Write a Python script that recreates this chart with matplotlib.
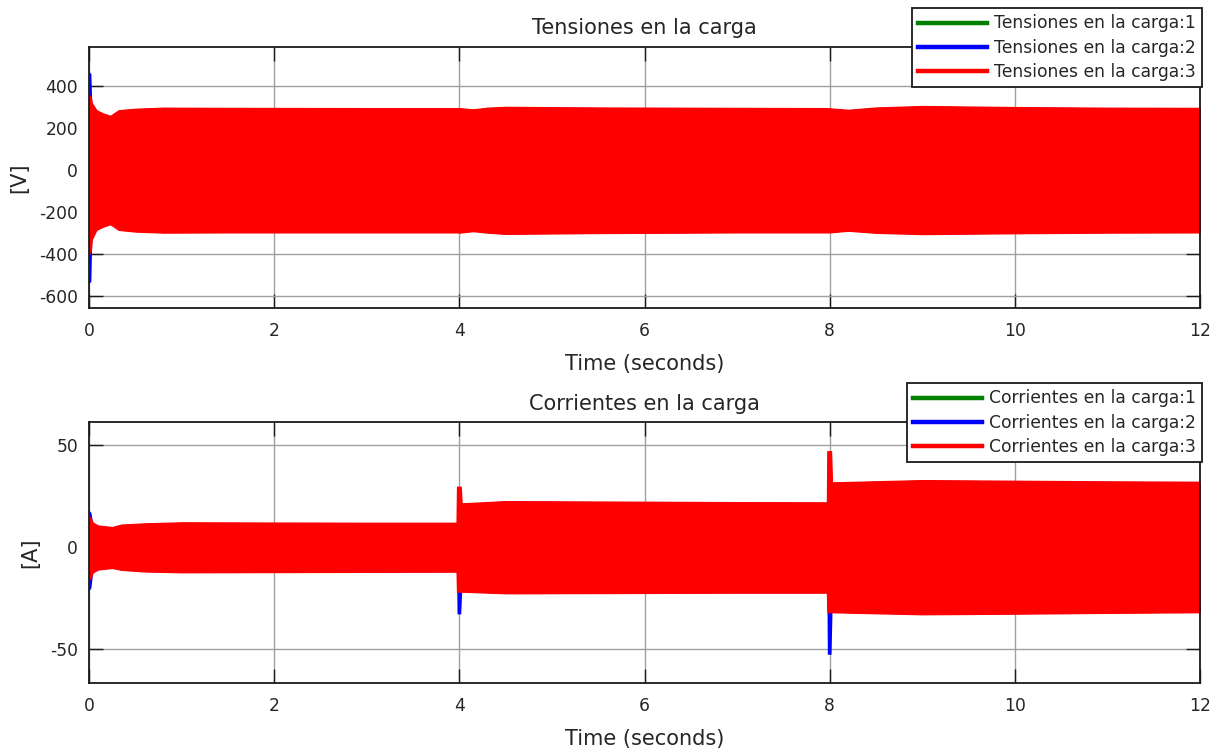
import matplotlib
matplotlib.use("Agg")
import matplotlib.pyplot as plt
from matplotlib.lines import Line2D

plt.rcParams['font.family'] = ['DejaVu Sans']
plt.rcParams['axes.unicode_minus'] = False

# ---- axis ticks -------------------------------------------------------
time_ticks = [0, 2, 4, 6, 8, 10, 12]
v_ticks = [-600, -400, -200, 0, 200, 400]
i_ticks = [-50, 0, 50]

phase_colors = ['#008000', '#0000ff', '#ff0000']
v_labels = ['Tensiones en la carga:1', 'Tensiones en la carga:2', 'Tensiones en la carga:3']
i_labels = ['Corrientes en la carga:1', 'Corrientes en la carga:2', 'Corrientes en la carga:3']

# ---- load voltage envelopes (peak values per phase) [V] ---------------
v_t = [0.00, 0.02, 0.03, 0.08, 0.15, 0.23, 0.32, 0.50, 0.80, 1.50, 3.00, 3.97, 4.00,
       4.15, 4.30, 4.50, 5.50, 7.00, 7.97, 8.00, 8.20, 8.50, 9.00, 10.0, 11.0, 12.0]
v_hi_1 = [355, 340, 318, 283, 268, 256, 283, 290, 295, 294, 293, 293, 293,
          287, 295, 299, 296, 294, 293, 292, 285, 296, 303, 298, 295, 294]
v_lo_1 = [-395, -375, -328, -283, -268, -256, -283, -291, -296, -295, -295, -295, -296,
          -289, -296, -302, -298, -295, -295, -295, -287, -297, -303, -299, -296, -295]
v_hi_2 = [468, 460, 320, 285, 270, 258, 285, 292, 297, 296, 295, 295, 295,
          289, 297, 301, 298, 296, 295, 294, 287, 298, 305, 300, 297, 296]
v_lo_2 = [-540, -530, -330, -285, -270, -258, -285, -293, -298, -297, -297, -297, -298,
          -291, -298, -304, -300, -297, -297, -297, -289, -299, -305, -301, -298, -297]
v_hi_3 = [360, 345, 320, 285, 270, 258, 285, 292, 297, 296, 295, 295, 295,
          289, 297, 301, 298, 296, 295, 294, 287, 298, 305, 300, 297, 296]
v_lo_3 = [-400, -380, -330, -285, -270, -258, -285, -293, -298, -297, -297, -297, -298,
          -291, -298, -304, -300, -297, -297, -297, -289, -299, -305, -301, -298, -297]

# ---- load current envelopes (peak values per phase) [A] ---------------
i_t = [0.00, 0.02, 0.04, 0.10, 0.25, 0.35, 0.60, 1.00, 2.00, 3.00, 3.97, 3.975, 4.015, 4.025,
       4.20, 4.50, 5.50, 7.00, 7.97, 7.975, 8.015, 8.025, 8.30, 9.00, 10.0, 11.0, 12.0]
i_hi_1 = [14.5, 13.5, 11.8, 10.3, 9.6, 10.8, 11.4, 11.9, 11.8, 11.7, 11.7, 28.0, 28.0, 21.2,
          21.6, 22.3, 22.1, 21.8, 21.7, 44.0, 44.0, 31.5, 31.8, 32.6, 32.3, 32.0, 31.8]
i_lo_1 = [-15.5, -14.5, -12.3, -10.8, -10.1, -11.0, -11.8, -12.2, -12.1, -12.0, -11.9, -21.7, -21.7, -21.7,
          -22.0, -22.5, -22.4, -22.2, -22.2, -31.8, -31.8, -31.8, -32.1, -32.8, -32.5, -32.1, -31.8]
i_hi_2 = [18.0, 17.0, 12.0, 10.5, 9.8, 11.0, 11.6, 12.1, 12.0, 11.9, 11.9, 26.0, 26.0, 21.4,
          21.8, 22.5, 22.3, 22.0, 21.9, 40.0, 40.0, 31.7, 32.0, 32.8, 32.5, 32.2, 32.0]
i_lo_2 = [-21.5, -20.0, -12.5, -11.0, -10.3, -11.2, -12.0, -12.4, -12.3, -12.2, -12.1, -32.8, -32.8, -21.9,
          -22.2, -22.7, -22.6, -22.4, -22.4, -52.6, -52.6, -32.0, -32.3, -33.0, -32.7, -32.3, -32.0]
i_hi_3 = [15.0, 14.0, 12.0, 10.5, 9.8, 11.0, 11.6, 12.1, 12.0, 11.9, 11.9, 29.6, 29.6, 21.4,
          21.8, 22.5, 22.3, 22.0, 21.9, 47.0, 47.0, 31.7, 32.0, 32.8, 32.5, 32.2, 32.0]
i_lo_3 = [-16.0, -15.0, -12.5, -11.0, -10.3, -11.2, -12.0, -12.4, -12.3, -12.2, -12.1, -21.9, -21.9, -21.9,
          -22.2, -22.7, -22.6, -22.4, -22.4, -32.0, -32.0, -32.0, -32.3, -33.0, -32.7, -32.3, -32.0]

FIG_W, FIG_H = 1221, 748
fig = plt.figure(figsize=(FIG_W / 100, FIG_H / 100), dpi=100)


def box(left, top, right, bottom):
    return [left / FIG_W, 1 - bottom / FIG_H, (right - left) / FIG_W, (bottom - top) / FIG_H]


ax_v = fig.add_axes(box(89, 47, 1200, 308))
ax_i = fig.add_axes(box(89, 422, 1200, 683))

text_color = '#262626'


def style_axes(ax, yticks, ylim, ylabel, title):
    ax.set_xlim(0, 12)
    ax.set_ylim(*ylim)
    ax.set_xticks(time_ticks)
    ax.set_yticks(yticks)
    ax.grid(True, color='#a0a0a0', linewidth=1.0)
    ax.set_axisbelow(True)
    ax.tick_params(direction='in', length=10, width=1.0, top=True, right=True,
                   labelsize=12.3, colors='#1a1a1a', labelcolor=text_color)
    ax.tick_params(axis='x', pad=10)
    ax.tick_params(axis='y', pad=8)
    for s in ax.spines.values():
        s.set_linewidth(1.3)
        s.set_color('#1a1a1a')
    ax.set_xlabel('Time (seconds)', fontsize=15, color=text_color, labelpad=10)
    ax.set_ylabel(ylabel, fontsize=15, color=text_color, labelpad=7)
    ax.set_title(title, fontsize=15, color=text_color, pad=9)


def draw_phases(ax, t, bands):
    # phase 1 first, phase 3 last so that it sits on top;
    # only the top band gets an outline, covering the soft edges below it
    last = len(bands) - 1
    for k, ((hi, lo), col) in enumerate(zip(bands, phase_colors)):
        ax.fill_between(t, lo, hi, facecolor=col, edgecolor=col,
                        linewidth=0.9 if k == last else 0, zorder=2)


draw_phases(ax_v, v_t, [(v_hi_1, v_lo_1), (v_hi_2, v_lo_2), (v_hi_3, v_lo_3)])
draw_phases(ax_i, i_t, [(i_hi_1, i_lo_1), (i_hi_2, i_lo_2), (i_hi_3, i_lo_3)])

style_axes(ax_v, v_ticks, (-657, 586), '[V]', 'Tensiones en la carga')
style_axes(ax_i, i_ticks, (-66.7, 61.3), '[A]', 'Corrientes en la carga')


def add_legend(ax, labels, top_px):
    handles = [Line2D([], [], color=c, linewidth=3.2) for c in phase_colors]
    leg = ax.legend(handles, labels, loc='upper right',
                    bbox_to_anchor=(1202 / FIG_W, 1 - top_px / FIG_H),
                    bbox_transform=fig.transFigure, fontsize=12.3, frameon=True,
                    fancybox=False, framealpha=1, edgecolor='#1a1a1a',
                    handlelength=4.0, handletextpad=0.4, labelspacing=0.36,
                    borderpad=0.38, borderaxespad=0)
    leg.get_frame().set_linewidth(1.3)
    for txt in leg.get_texts():
        txt.set_color(text_color)
    leg.set_zorder(10)


add_legend(ax_v, v_labels, 8)
add_legend(ax_i, i_labels, 383)

fig.savefig('out.png', dpi=100)
